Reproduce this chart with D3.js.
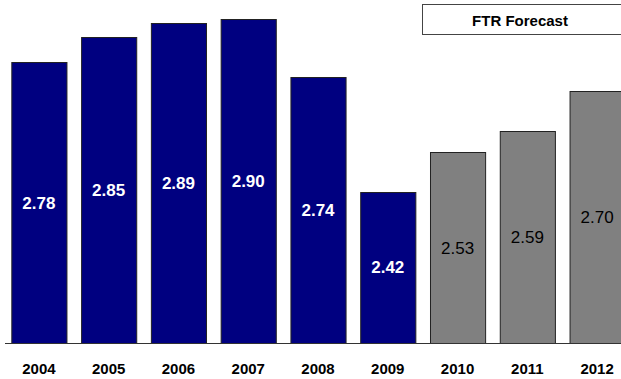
<!DOCTYPE html>
<html lang="en">
<head>
    <meta charset="UTF-8">
    <title>FTR Forecast Bar Chart</title>
    <style>
        body { margin: 0; background: #fff; }
        svg text { font-family: "Liberation Sans", Arial, sans-serif; }
    </style>
    <script src="https://d3js.org/d3.v7.min.js"></script>
</head>
<body>
    <script>
        // data
        const years = ['2004', '2005', '2006', '2007', '2008', '2009', '2010', '2011', '2012'];
        const values = [2.78, 2.85, 2.89, 2.90, 2.74, 2.42, 2.53, 2.59, 2.70];
        const forecast = [false, false, false, false, false, false, true, true, true];
        const legendLabel = 'FTR Forecast';

        const width = 621;
        const height = 379;
        const baseY = 343;
        const font = '"Liberation Sans", Arial, sans-serif';

        const data = years.map((year, i) => ({ year, value: values[i], forecast: forecast[i] }));

        const svg = d3.select('body').append('svg')
            .attr('width', width)
            .attr('height', height);

        const x = d3.scaleBand()
            .domain(years)
            .range([4, 632])
            .paddingInner(0.21)
            .paddingOuter(0.105);

        const y = d3.scaleLinear()
            .domain([2, 3])
            .range([baseY, -17]);

        // bars
        svg.selectAll('rect.bar')
            .data(data)
            .enter().append('rect')
            .attr('class', 'bar')
            .attr('x', d => x(d.year) + 0.5)
            .attr('y', d => Math.round(y(d.value)) + 0.5)
            .attr('width', x.bandwidth())
            .attr('height', d => baseY - Math.round(y(d.value)))
            .attr('fill', d => d.forecast ? '#808080' : '#000080')
            .attr('stroke', '#222')
            .attr('stroke-width', 1);

        // value labels in the middle of each bar
        svg.selectAll('text.val')
            .data(data)
            .enter().append('text')
            .attr('class', 'val')
            .attr('x', d => x(d.year) + x.bandwidth() / 2)
            .attr('y', d => (y(d.value) + baseY) / 2)
            .attr('dy', '0.35em')
            .attr('text-anchor', 'middle')
            .attr('font-size', 17)
            .attr('font-weight', d => d.forecast ? 'normal' : 'bold')
            .attr('fill', d => d.forecast ? '#000' : '#fff')
            .text(d => d.value.toFixed(2));

        // x axis
        const xAxis = svg.append('g')
            .attr('transform', `translate(0,${baseY})`)
            .call(d3.axisBottom(x).tickSize(0).tickPadding(20));
        xAxis.select('.domain').attr('d', `M5,0.5H${width}`).attr('stroke', '#333');
        xAxis.selectAll('text')
            .attr('font-size', 15)
            .attr('font-weight', 'bold')
            .attr('font-family', font)
            .attr('fill', '#000');

        // legend box
        const legend = svg.append('g');
        legend.append('rect')
            .attr('x', 422.5)
            .attr('y', 4.5)
            .attr('width', 210)
            .attr('height', 30)
            .attr('fill', '#fff')
            .attr('stroke', '#444');
        legend.append('text')
            .attr('x', 520)
            .attr('y', 21)
            .attr('dy', '0.35em')
            .attr('text-anchor', 'middle')
            .attr('font-size', 15)
            .attr('font-weight', 'bold')
            .text(legendLabel);
    </script>
</body>
</html>
